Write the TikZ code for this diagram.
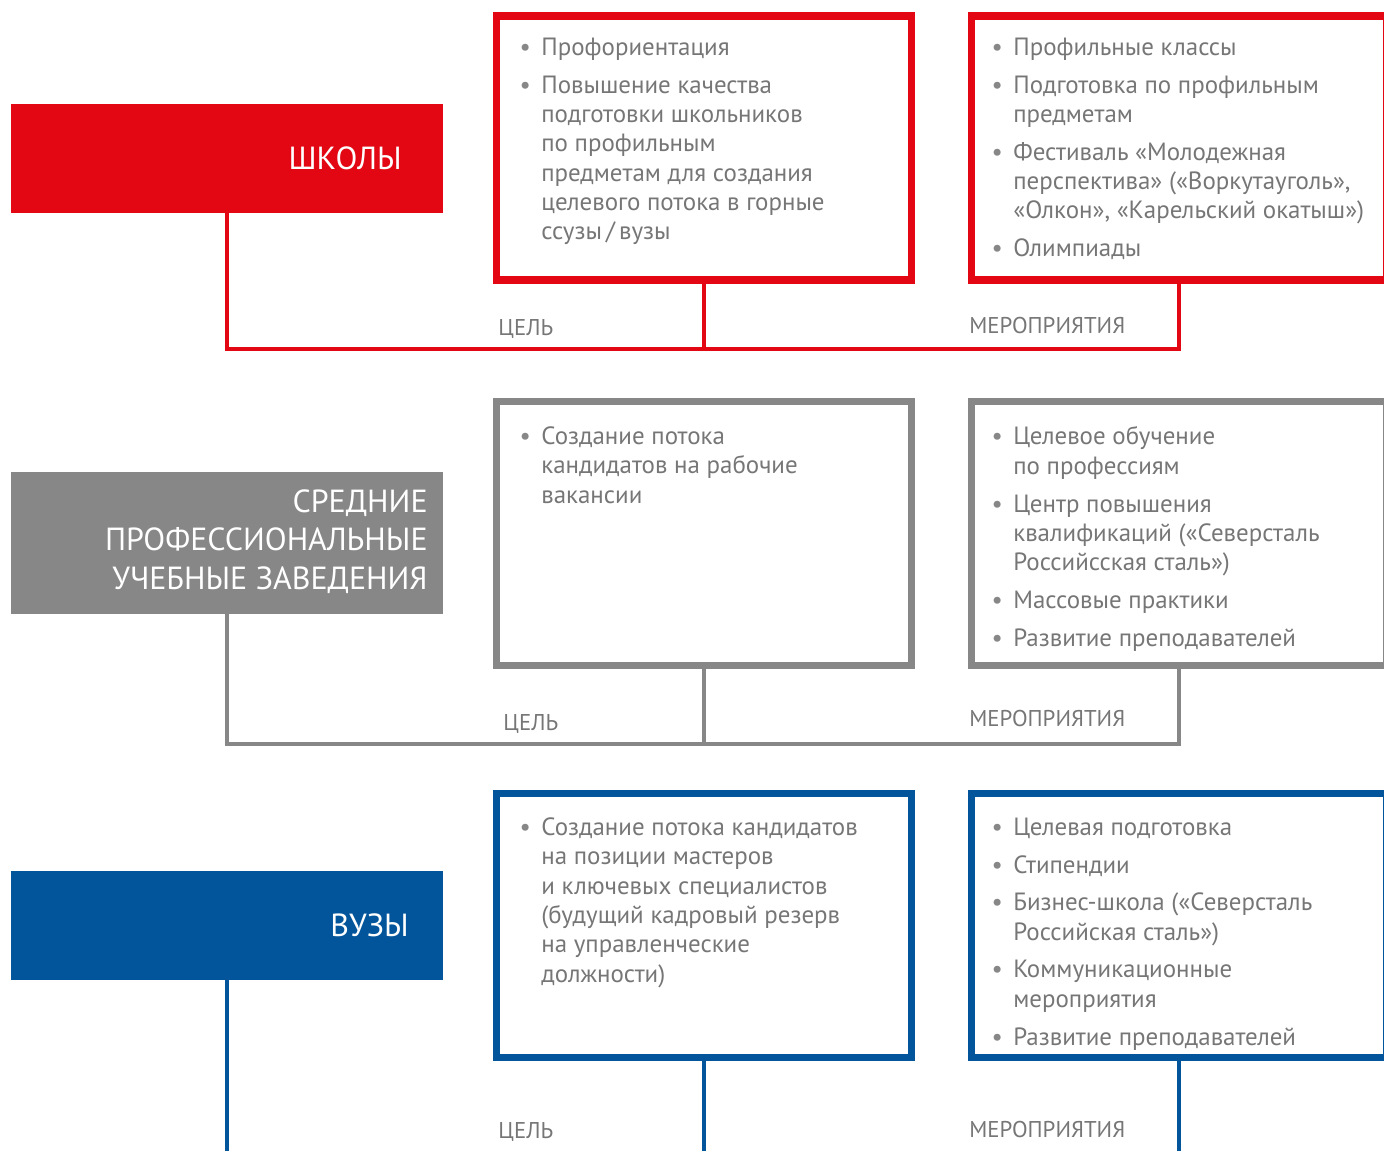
\documentclass[tikz,border=0pt]{standalone}
\usepackage{fontspec}
\setmainfont{PT Sans}
\usepackage{xcolor}
\usetikzlibrary{positioning}

\definecolor{sred}{HTML}{E30613}
\definecolor{sgray}{HTML}{878787}
\definecolor{sblue}{HTML}{02559B}
\definecolor{txtgray}{HTML}{767676}
\newcommand{\itm}{\llap{\textcolor{sgray}{\textbullet}\hspace{6pt}}}

\begin{document}
\begin{tikzpicture}[x=0.02cm, y=-0.02cm,
	head/.style={fill=#1, minimum width=8.64cm, inner sep=0, outer sep=0},
	headtxt/.style={text=white, align=right, inner sep=0, font=\fontsize{18.2}{21.9}\selectfont},
	frame/.style={draw=#1, line width=0.15cm, minimum width=8.3cm, minimum height=5.28cm, inner sep=0, outer sep=0},
	body/.style={text=txtgray, align=left, anchor=north west, inner sep=0, font=\fontsize{14.2}{16.7}\selectfont},
	tag/.style={text=txtgray, anchor=base west, inner sep=0, font=\fontsize{13}{14}\selectfont},
	link/.style={draw=#1, line width=0.07cm}]
\useasboundingbox (0,0) rectangle (1384,1151);
\clip (0,0) rectangle (1384,1151);

% schools
\node[head=sred, minimum height=2.18cm] (school) at (227,158.5) {};
\node[headtxt, anchor=base east] (schooltxt) at (402,170) {ШКОЛЫ};
\node[frame=sred] (schoolgoal) at (704,148) {};
\node[frame=sred] (schoolev) at (1179,148) {};
\node[body] (schoolgoaltxt) at (541,37.5) {\itm Профориентация\\[4.8pt]
	\itm Повышение качества\\ подготовки школьников\\ по профильным\\
	предметам для создания\\ целевого потока в горные\\ ссузы\,/\,вузы};
\node[body] (schoolevtxt) at (1013,37.5) {\itm Профильные классы\\[4.8pt]
	\itm Подготовка по профильным\\ предметам\\[4.8pt]
	\itm Фестиваль «Молодежная\\ перспектива» («Воркутауголь»,\\ «Олкон», «Карельский окатыш»)\\[4.8pt]
	\itm Олимпиады};
\node[tag] (schoolgoaltag) at (498,336) {ЦЕЛЬ};
\node[tag] (schoolevtag) at (969,334) {МЕРОПРИЯТИЯ};
\coordinate (schooljoin) at (704,349);
\draw[link=sred] (school.south) |- (schooljoin) -| (schoolev.south);
\draw[link=sred] (schoolgoal.south) -- (schooljoin);

% colleges
\node[head=sgray, minimum height=2.84cm] (college) at (227,543) {};
\node[headtxt, anchor=east] (collegetxt) at (428,541.5) {СРЕДНИЕ\\ ПРОФЕССИОНАЛЬНЫЕ\\ УЧЕБНЫЕ ЗАВЕДЕНИЯ};
\node[frame=sgray] (collegegoal) at (704,533.5) {};
\node[frame=sgray] (collegeev) at (1179,533.5) {};
\node[body] (collegegoaltxt) at (541,426.5) {\itm Создание потока\\ кандидатов на рабочие\\ вакансии};
\node[body] (collegeevtxt) at (1013,426.5) {\itm Целевое обучение\\ по профессиям\\[4.8pt]
	\itm Центр повышения\\ квалификаций («Северсталь\\ Российсская сталь»)\\[4.8pt]
	\itm Массовые практики\\[4.8pt]
	\itm Развитие преподавателей};
\node[tag] (collegegoaltag) at (503,731) {ЦЕЛЬ};
\node[tag] (collegeevtag) at (969,727) {МЕРОПРИЯТИЯ};
\coordinate (collegejoin) at (704,744);
\draw[link=sgray] (college.south) |- (collegejoin) -| (collegeev.south);
\draw[link=sgray] (collegegoal.south) -- (collegejoin);

% universities
\node[head=sblue, minimum height=2.18cm] (univ) at (227,925.5) {};
\node[headtxt, anchor=base east] (univtxt) at (409,937) {ВУЗЫ};
\node[frame=sblue] (univgoal) at (704,925.5) {};
\node[frame=sblue] (univev) at (1179,925.5) {};
\node[body] (univgoaltxt) at (541,817.5) {\itm Создание потока кандидатов\\ на позиции мастеров\\
	и ключевых специалистов\\ (будущий кадровый резерв\\ на управленческие\\ должности)};
\node[body] (univevtxt) at (1013,817.5) {\itm Целевая подготовка\\[4.8pt]
	\itm Стипендии\\[4.8pt]
	\itm Бизнес-школа («Северсталь\\ Российская сталь»)\\[4.8pt]
	\itm Коммуникационные\\ мероприятия\\[4.8pt]
	\itm Развитие преподавателей};
\node[tag] (univgoaltag) at (498,1139) {ЦЕЛЬ};
\node[tag] (univevtag) at (969,1137) {МЕРОПРИЯТИЯ};
\coordinate (univbottom) at (0,1170);
\draw[link=sblue] (univ.south) -- (univ.south |- univbottom);
\draw[link=sblue] (univgoal.south) -- (univgoal.south |- univbottom);
\draw[link=sblue] (univev.south) -- (univev.south |- univbottom);
\end{tikzpicture}
\end{document}
